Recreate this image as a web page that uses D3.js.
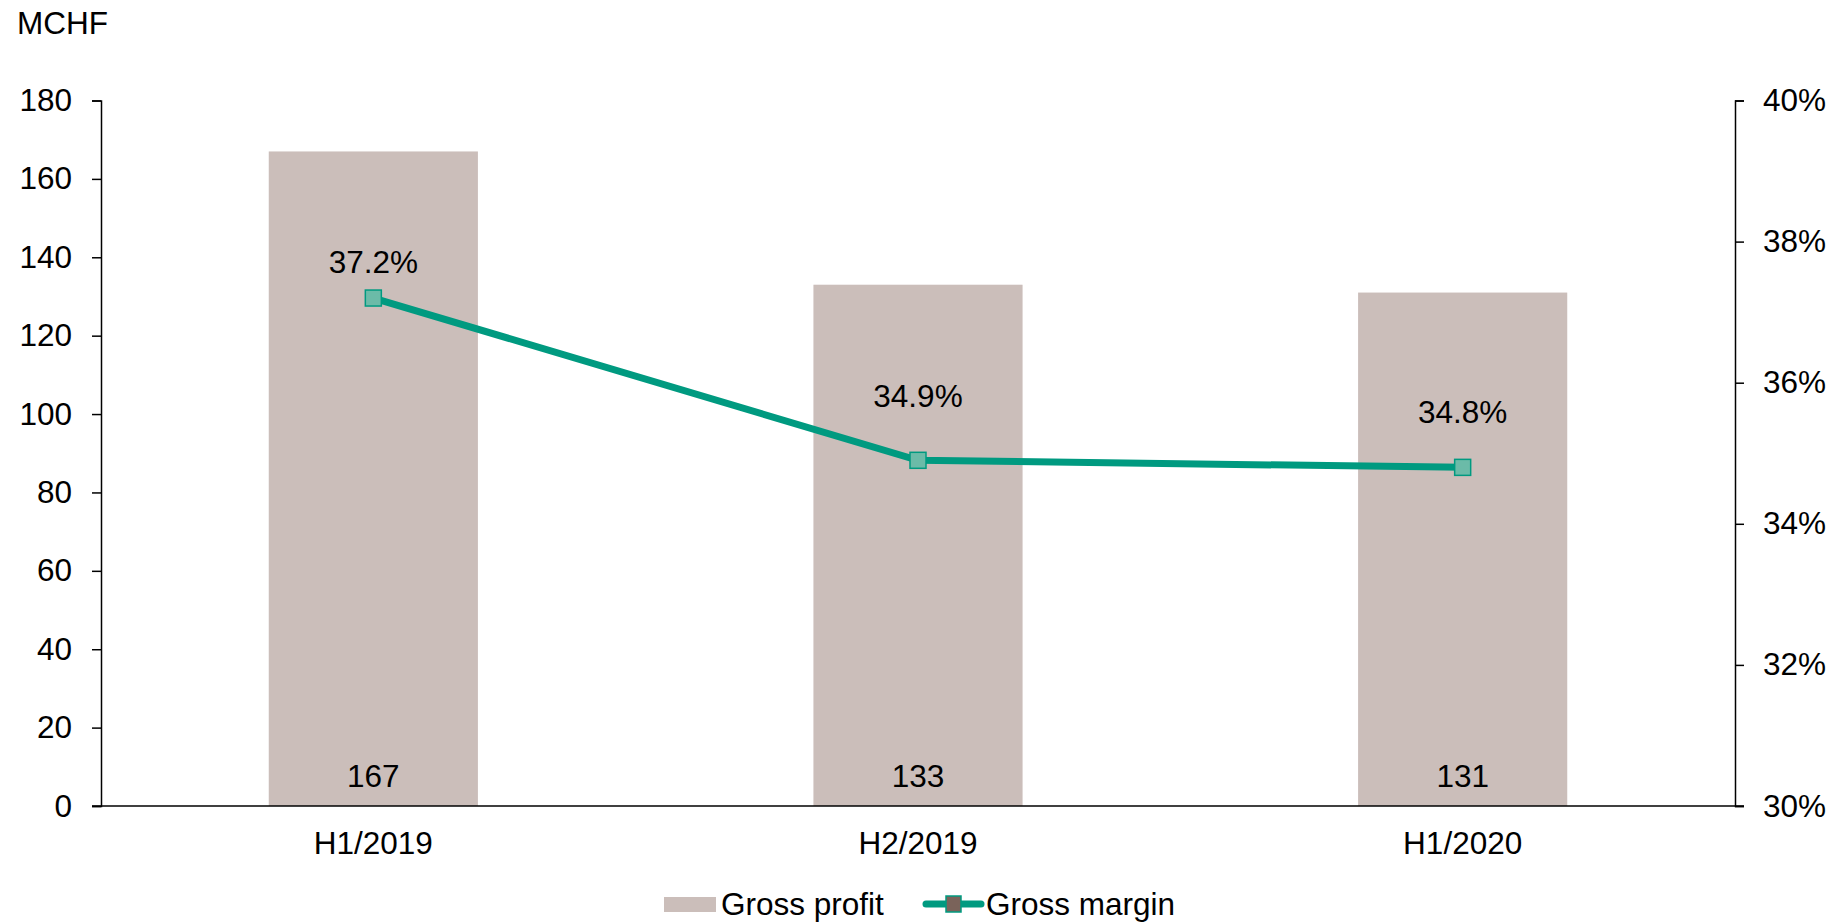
<!DOCTYPE html>
<html>
<head>
<meta charset="utf-8">
<script src="https://cdn.jsdelivr.net/npm/d3@7"></script>
<style>
  html, body { margin: 0; padding: 0; background: #fff; }
  svg { display: block; font-family: "Liberation Sans", Arial, sans-serif; }
  .axis text { font-size: 31.5px; fill: #000; }
  .axis path, .axis line { stroke: #000; stroke-width: 1.5px; }
  .lbl { font-size: 31.5px; fill: #000; }
</style>
</head>
<body>
<svg id="chart"></svg>
<script>
// data
const periods = ['H1/2019', 'H2/2019', 'H1/2020'];
const grossProfit = [167, 133, 131];
const grossMargin = [37.2, 34.9, 34.8];
const leftTicks = [0, 20, 40, 60, 80, 100, 120, 140, 160, 180];
const rightTicks = [30, 32, 34, 36, 38, 40];
// how far each margin label sits above its point (as in the original)
const marginLabelLift = [25, 53, 44];

const width = 1834, height = 923;
const margin = { top: 100.5, right: 99, bottom: 117, left: 101 };

const svg = d3.select('#chart')
    .attr('width', width)
    .attr('height', height);

const x = d3.scaleBand()
    .domain(periods)
    .range([margin.left, width - margin.right])
    .paddingInner(0.616)
    .paddingOuter(0.308);

const yLeft = d3.scaleLinear()
    .domain([0, 180])
    .range([height - margin.bottom, margin.top]);

const yRight = d3.scaleLinear()
    .domain([30, 40])
    .range([height - margin.bottom, margin.top]);

const y0 = height - margin.bottom;

// Cột lợi nhuận gộp
svg.append('g')
    .selectAll('rect')
    .data(periods)
    .join('rect')
    .attr('x', d => x(d))
    .attr('y', (d, i) => yLeft(grossProfit[i]))
    .attr('width', x.bandwidth())
    .attr('height', (d, i) => y0 - yLeft(grossProfit[i]))
    .attr('fill', '#CBBEBA');

// Trục trái
svg.append('g')
    .attr('class', 'axis')
    .attr('transform', `translate(${margin.left},0)`)
    .call(d3.axisLeft(yLeft).tickValues(leftTicks).tickSize(9).tickSizeOuter(9).tickPadding(20));

// Trục phải
svg.append('g')
    .attr('class', 'axis')
    .attr('transform', `translate(${width - margin.right},0)`)
    .call(d3.axisRight(yRight).tickValues(rightTicks).tickSize(9).tickSizeOuter(9).tickPadding(19)
        .tickFormat(d => d + '%'));

// Trục dưới
const xAxis = svg.append('g')
    .attr('class', 'axis')
    .attr('transform', `translate(0,${y0})`)
    .call(d3.axisBottom(x).tickSize(0).tickPadding(26));
xAxis.select('.domain').remove();
xAxis.append('line')
    .attr('x1', margin.left - 9)
    .attr('x2', width - margin.right + 9)
    .attr('stroke', '#000')
    .attr('stroke-width', 2);

// Nhãn giá trị cột
svg.append('g')
    .selectAll('text')
    .data(periods)
    .join('text')
    .attr('class', 'lbl')
    .attr('x', d => x(d) + x.bandwidth() / 2)
    .attr('y', y0 - 19)
    .attr('text-anchor', 'middle')
    .text((d, i) => grossProfit[i]);

// Đường biên lợi nhuận
const cx = d => x(d) + x.bandwidth() / 2;
const line = d3.line()
    .x(d => cx(d))
    .y((d, i) => yRight(grossMargin[i]));

svg.append('path')
    .datum(periods)
    .attr('d', line)
    .attr('fill', 'none')
    .attr('stroke', '#009A80')
    .attr('stroke-width', 7);

svg.append('g')
    .selectAll('rect')
    .data(periods)
    .join('rect')
    .attr('x', d => cx(d) - 8)
    .attr('y', (d, i) => yRight(grossMargin[i]) - 8)
    .attr('width', 16)
    .attr('height', 16)
    .attr('fill', '#6BBBA8')
    .attr('stroke', '#009A80')
    .attr('stroke-width', 1.5);

svg.append('g')
    .selectAll('text')
    .data(periods)
    .join('text')
    .attr('class', 'lbl')
    .attr('x', d => cx(d))
    .attr('y', (d, i) => yRight(grossMargin[i]) - marginLabelLift[i])
    .attr('text-anchor', 'middle')
    .text((d, i) => grossMargin[i].toFixed(1) + '%');

// Đơn vị
svg.append('text')
    .attr('class', 'lbl')
    .attr('x', 17)
    .attr('y', 34)
    .text('MCHF');

// Chú giải
const legend = svg.append('g');
legend.append('rect')
    .attr('x', 664).attr('y', 897)
    .attr('width', 52).attr('height', 15)
    .attr('fill', '#CBBEBA');
legend.append('text')
    .attr('class', 'lbl')
    .attr('x', 721).attr('y', 915)
    .text('Gross profit');
legend.append('line')
    .attr('x1', 926).attr('x2', 981)
    .attr('y1', 904).attr('y2', 904)
    .attr('stroke', '#009A80')
    .attr('stroke-width', 7)
    .attr('stroke-linecap', 'round');
legend.append('rect')
    .attr('x', 946).attr('y', 896)
    .attr('width', 15).attr('height', 16)
    .attr('fill', '#7A635A')
    .attr('stroke', '#009A80')
    .attr('stroke-width', 1.5);
legend.append('text')
    .attr('class', 'lbl')
    .attr('x', 986).attr('y', 915)
    .text('Gross margin');
</script>
</body>
</html>
